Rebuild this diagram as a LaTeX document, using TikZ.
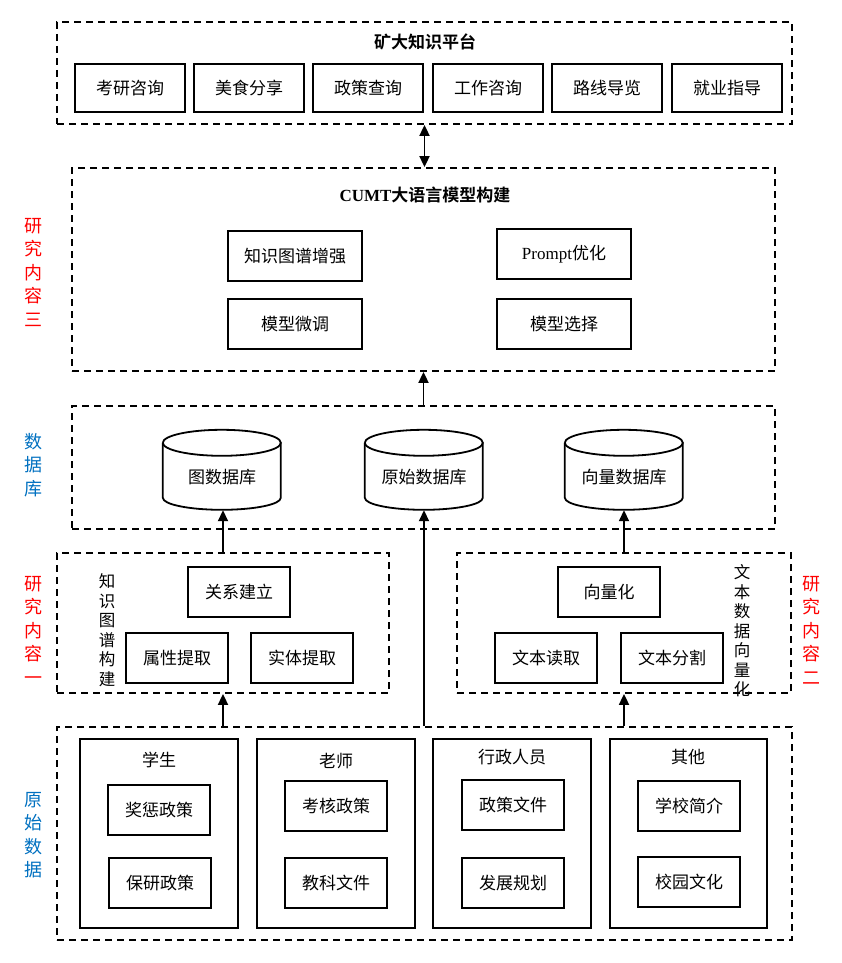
\documentclass[tikz,border=0pt]{standalone}
\usepackage{fontspec}
\setmainfont{Liberation Serif}
\newfontfamily\cjk{Noto Sans CJK SC}[BoldFont={Noto Sans CJK SC Bold}]
\usetikzlibrary{arrows.meta}
\definecolor{lblred}{RGB}{255,0,0}
\definecolor{lblblue}{RGB}{0,112,192}
\tikzset{
  box/.style={draw, line width=1.8pt, inner sep=0pt, font=\cjk\fontsize{17}{17}\selectfont},
  grp/.style={draw, dash pattern=on 7pt off 5pt, line width=1.8pt, inner sep=0pt},
  ttl/.style={font=\cjk\bfseries\fontsize{17}{17}\selectfont, inner sep=0pt},
  sub/.style={font=\cjk\fontsize{17}{17}\selectfont, inner sep=0pt},
  arr/.style={-{Triangle[length=11pt,width=10pt]}, line width=1.8pt},
  darr/.style={{Triangle[length=11pt,width=10pt]}-{Triangle[length=11pt,width=10pt]}, line width=1.8pt},
  side/.style={align=center, inner sep=0pt, font=\cjk\fontsize{18}{23.5}\selectfont},
  inv/.style={align=center, inner sep=0pt, font=\cjk\fontsize{16.5}{19.5}\selectfont},
  dbshape/.style={line width=1.8pt},
}
\begin{document}
\begin{tikzpicture}[x=1pt,y=-1pt]
\useasboundingbox (0,0) rectangle (841,963);

% ---- top platform
\node[grp, minimum width=735pt, minimum height=102pt] (g1) at (424.5,73) {};
\node[ttl] (t1) at (425,42) {矿大知识平台};
\node[box, minimum width=110pt, minimum height=48pt] (p1) at (130,88) {考研咨询};
\node[box, minimum width=110pt, minimum height=48pt] (p2) at (249,88) {美食分享};
\node[box, minimum width=110pt, minimum height=48pt] (p3) at (368,88) {政策查询};
\node[box, minimum width=110pt, minimum height=48pt] (p4) at (488,88) {工作咨询};
\node[box, minimum width=110pt, minimum height=48pt] (p5) at (607,88) {路线导览};
\node[box, minimum width=110pt, minimum height=48pt] (p6) at (727,88) {就业指导};

% ---- CUMT
\node[grp, minimum width=703pt, minimum height=203pt] (g2) at (423.5,269.5) {};
\node[ttl] (t2) at (425,195) {{\rmfamily\bfseries CUMT}大语言模型构建};
\node[box, minimum width=134pt, minimum height=50pt] (kg) at (295,256) {知识图谱增强};
\node[box, minimum width=134pt, minimum height=50pt] (ft) at (295,324) {模型微调};
\node[box, minimum width=134pt, minimum height=50pt] (pr) at (564,254) {{\rmfamily Prompt}优化};
\node[box, minimum width=134pt, minimum height=50pt] (ms) at (564,324) {模型选择};
\node[side, text=lblred] (l3) at (33,272) {研\\究\\内\\容\\三};

\draw[darr] (g1.south) -- (g1.south |- g2.north);

% ---- databases
\node[grp, minimum width=703pt, minimum height=123pt] (g3) at (423.5,467.5) {};
\draw[arr] (g3.north) -- (g2.south);
\node[side, text=lblblue] (ldb) at (33,465) {数\\据\\库};

\foreach \n/\cx/\lab in {db1/222/图数据库, db2/424/原始数据库, db3/624/向量数据库}{
  \node[minimum width=118pt, minimum height=80pt, inner sep=0pt] (\n) at (\cx,470) {};
  \draw[dbshape] (\n.north west) ++(0,13) arc[start angle=180, end angle=-180, x radius=59pt, y radius=13pt];
  \draw[dbshape] (\n.north west) ++(0,13) -- ++(0,55) arc[start angle=180, end angle=360, x radius=59pt, y radius=12pt] -- ++(0,-55);
  \node[sub] (\n t) at (\cx,477) {\lab};
}

% ---- research 1
\node[grp, minimum width=332pt, minimum height=140pt] (g4) at (223,623) {};
\node[box, minimum width=102pt, minimum height=50pt] (rel) at (239,592) {关系建立};
\node[box, minimum width=102pt, minimum height=50pt] (att) at (177,658) {属性提取};
\node[box, minimum width=102pt, minimum height=50pt] (ent) at (302,658) {实体提取};
\node[inv] (v1) at (107,630) {知\\识\\图\\谱\\构\\建};
\node[side, text=lblred] (l1) at (33,630) {研\\究\\内\\容\\一};

% ---- research 2
\node[grp, minimum width=334pt, minimum height=140pt] (g5) at (624,623) {};
\node[box, minimum width=102pt, minimum height=50pt] (vec) at (609,592) {向量化};
\node[box, minimum width=102pt, minimum height=50pt] (rd) at (546,658) {文本读取};
\node[box, minimum width=102pt, minimum height=50pt] (sp) at (672,658) {文本分割};
\node[inv] (v2) at (742,631) {文\\本\\数\\据\\向\\量\\化};
\node[side, text=lblred] (l2) at (811,630) {研\\究\\内\\容\\二};

\draw[arr] (g4.north) -- (g4.north |- db1.south);
\draw[arr] (g5.north) -- (g5.north |- db3.south);

% ---- raw data
\node[grp, minimum width=735pt, minimum height=213pt] (g6) at (424.5,833.5) {};
\node[side, text=lblblue] (l0) at (33,835) {原\\始\\数\\据};

\node[box, minimum width=158pt, minimum height=189pt] (c1) at (159,833.5) {};
\node[box, minimum width=158pt, minimum height=189pt] (c2) at (336,833.5) {};
\node[box, minimum width=158pt, minimum height=189pt] (c3) at (512,833.5) {};
\node[box, minimum width=157pt, minimum height=189pt] (c4) at (688.5,833.5) {};
\node[sub] (c1t) at (159,760) {学生};
\node[sub] (c2t) at (336,761) {老师};
\node[sub] (c3t) at (512,757) {行政人员};
\node[sub] (c4t) at (688,757) {其他};

\node[box, minimum width=102pt, minimum height=50pt] (s1) at (159,810) {奖惩政策};
\node[box, minimum width=102pt, minimum height=50pt] (s2) at (160,883) {保研政策};
\node[box, minimum width=102pt, minimum height=50pt] (s3) at (336,806) {考核政策};
\node[box, minimum width=102pt, minimum height=50pt] (s4) at (336,883) {教科文件};
\node[box, minimum width=102pt, minimum height=50pt] (s5) at (513,805) {政策文件};
\node[box, minimum width=102pt, minimum height=50pt] (s6) at (513,883) {发展规划};
\node[box, minimum width=102pt, minimum height=50pt] (s7) at (689,806) {学校简介};
\node[box, minimum width=102pt, minimum height=50pt] (s8) at (689,882) {校园文化};

\draw[arr] (g4.south |- g6.north) -- (g4.south);
\draw[arr] (g5.south |- g6.north) -- (g5.south);
\draw[arr] (db2.south |- g6.north) -- (db2.south);
\end{tikzpicture}
\end{document}
